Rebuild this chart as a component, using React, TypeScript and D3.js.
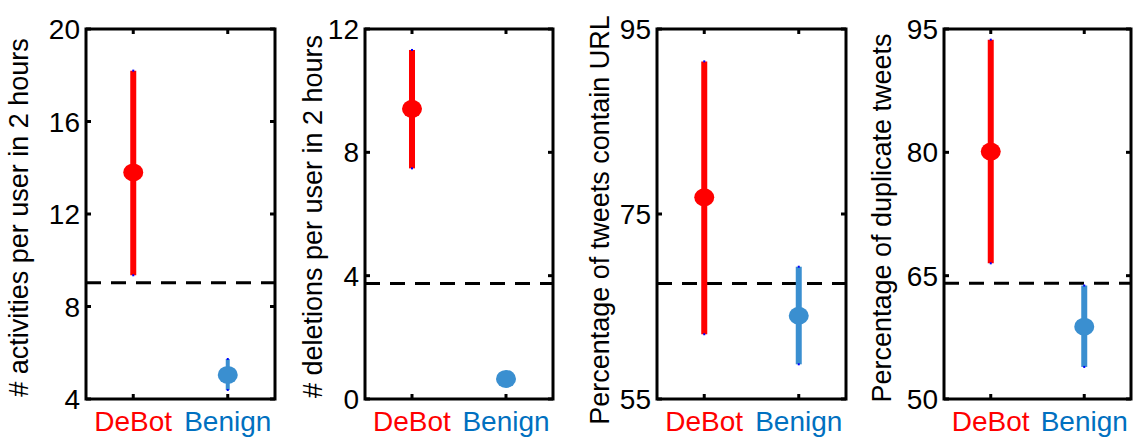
import React from "react";
import * as d3 from "d3";

const categories = ["DeBot", "Benign"];
const yLabels = [
  "# activities per user in 2 hours",
  "# deletions per user in 2 hours",
  "Percentage of tweets contain URL",
  "Percentage of duplicate tweets",
];
const yDomains: [number, number][] = [[4, 20], [0, 12], [55, 95], [50, 95]];
const yTicks = [[4, 8, 12, 16, 20], [0, 4, 8, 12], [55, 75, 95], [50, 65, 80, 95]];
const debotMean = [13.8, 9.41, 76.8, 80.1];
const debotLow = [9.35, 7.48, 62.0, 66.5];
const debotHigh = [18.2, 11.32, 91.5, 93.7];
const benignMean = [5.04, 0.65, 64.0, 58.8];
const benignLow = [4.39, 0.62, 58.75, 53.9];
const benignHigh = [5.73, 0.68, 69.3, 63.8];
const thresholds = [9.03, 3.75, 67.5, 64.07];

const panelX = [86, 365, 657, 944];
const panelW = [189, 188, 189, 187];
const labelOffsetX = [58, 43, 48, 53];
const labelCenterY = [217.5, 216.5, 220, 218];
const benignBarWidth = [4, 6, 6, 6];
const TOP = 29;
const BOTTOM = 399;
const RED = "#ff0000";
const BLUE = "#3a8fd0";
const BLUE_TEXT = "#0070c0";
const FONT = "Liberation Sans, Arial, sans-serif";

function Panel({ i }: { i: number }) {
  const x0 = panelX[i];
  const w = panelW[i];
  const x = d3.scaleLinear().domain([0.5, 2.5]).range([x0, x0 + w]);
  const y = d3.scaleLinear().domain(yDomains[i]).range([BOTTOM, TOP]);
  const series = [
    { mean: debotMean[i], low: debotLow[i], high: debotHigh[i], color: RED, bw: 6 },
    { mean: benignMean[i], low: benignLow[i], high: benignHigh[i], color: BLUE, bw: benignBarWidth[i] },
  ];
  const tl = 5;
  return (
    <g>
      <line
        x1={x0}
        x2={x0 + w}
        y1={y(thresholds[i])}
        y2={y(thresholds[i])}
        stroke="#000"
        strokeWidth={3}
        strokeDasharray="15,10"
      />
      {series.map((s, k) => (
        <g key={k}>
          <line
            x1={x(k + 1)}
            x2={x(k + 1)}
            y1={y(s.low)}
            y2={y(s.high)}
            stroke={s.color}
            strokeWidth={s.bw}
          />
          <rect x={x(k + 1) - 1} y={y(s.high) - 1} width={2} height={2} fill="#0000ff" />
          <rect x={x(k + 1) - 1} y={y(s.low) - 1} width={2} height={2} fill="#0000ff" />
          <ellipse cx={x(k + 1)} cy={y(s.mean)} rx={10} ry={9} fill={s.color} />
        </g>
      ))}
      <rect x={x0} y={TOP} width={w} height={BOTTOM - TOP} fill="none" stroke="#000" strokeWidth={3} />
      {yTicks[i].map((t) => (
        <g key={t}>
          <line x1={x0} x2={x0 + tl} y1={y(t)} y2={y(t)} stroke="#000" strokeWidth={3} />
          <line x1={x0 + w - tl} x2={x0 + w} y1={y(t)} y2={y(t)} stroke="#000" strokeWidth={3} />
          <text
            x={x0 - 6}
            y={y(t)}
            dy="0.36em"
            textAnchor="end"
            fontSize={28}
            fontFamily={FONT}
            fill="#000"
          >
            {t}
          </text>
        </g>
      ))}
      {categories.map((c, k) => (
        <g key={c}>
          <line x1={x(k + 1)} x2={x(k + 1)} y1={BOTTOM} y2={BOTTOM - tl} stroke="#000" strokeWidth={3} />
          <line x1={x(k + 1)} x2={x(k + 1)} y1={TOP} y2={TOP + tl} stroke="#000" strokeWidth={3} />
          <text
            x={x(k + 1)}
            y={431}
            textAnchor="middle"
            fontSize={28}
            fontFamily={FONT}
            fill={k === 0 ? RED : BLUE_TEXT}
          >
            {c}
          </text>
        </g>
      ))}
      <text
        transform={`translate(${x0 - labelOffsetX[i]},${labelCenterY[i]}) rotate(-90)`}
        textAnchor="middle"
        fontSize={27}
        fontFamily={FONT}
        fill="#000"
      >
        {yLabels[i]}
      </text>
    </g>
  );
}

export default function App() {
  return (
    <svg
      width={1136}
      height={439}
      style={{ position: "absolute", left: 0, top: 0, background: "#fff" }}
    >
      <rect width={1136} height={439} fill="#fff" />
      {[0, 1, 2, 3].map((i) => (
        <Panel key={i} i={i} />
      ))}
    </svg>
  );
}
